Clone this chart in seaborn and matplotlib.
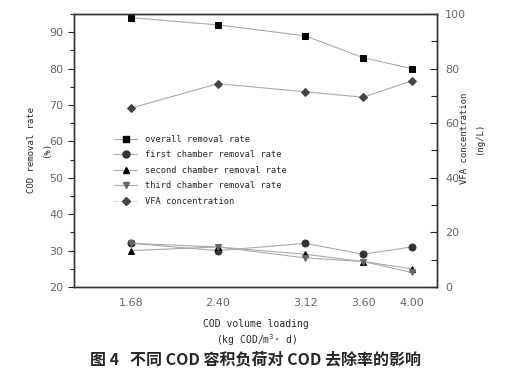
import matplotlib
matplotlib.use('Agg')
import matplotlib.pyplot as plt
import seaborn as sns
import pandas as pd
from matplotlib.ticker import MultipleLocator
from matplotlib.lines import Line2D

# COD volume loading (kg COD/m3·d)
loading = [1.68, 2.40, 3.12, 3.60, 4.00]
loading_labels = ['1.68', '2.40', '3.12', '3.60', '4.00']

# removal rates (%), left axis
overall = [94, 92, 89, 83, 80]
first_chamber = [32, 30, 32, 29, 31]
second_chamber = [30, 31, 29, 27, 25]
third_chamber = [32, 31, 28, 27, 24]

# VFA concentration (ng/L), right axis
vfa = [65.5, 74.5, 71.5, 69.5, 75.5]

sns.set_style('ticks')
plt.rcParams['font.family'] = ['DejaVu Sans', 'Noto Sans CJK SC']

fig = plt.figure(figsize=(5.12, 3.74), dpi=100)
ax = fig.add_axes([0.1445, 0.2326, 0.709, 0.73])
ax2 = ax.twinx()

series = [
    ('overall removal rate', overall, 's', 'black', 4.5),
    ('first chamber removal rate', first_chamber, 'o', '#333333', 5),
    ('second chamber removal rate', second_chamber, '^', 'black', 5),
    ('third chamber removal rate', third_chamber, 'v', '#666666', 5),
]
handles = []
for name, vals, mk, col, ms in series:
    df = pd.DataFrame({'x': loading, 'y': vals})
    sns.lineplot(data=df, x='x', y='y', ax=ax, color='#aaaaaa', lw=0.8,
                 marker=mk, markersize=ms, markerfacecolor=col,
                 markeredgecolor=col, legend=False)
    handles.append(Line2D([], [], color='#aaaaaa', lw=0.8, marker=mk, markersize=ms,
                          markerfacecolor=col, markeredgecolor=col, label=name))

df_vfa = pd.DataFrame({'x': loading, 'y': vfa})
sns.lineplot(data=df_vfa, x='x', y='y', ax=ax2, color='#aaaaaa', lw=0.8,
             marker='D', markersize=4.5, markerfacecolor='#444444',
             markeredgecolor='#444444', legend=False)
handles.append(Line2D([], [], color='#dddddd', lw=0.8, marker='D', markersize=4.5,
                      markerfacecolor='#444444', markeredgecolor='#444444',
                      label='VFA concentration'))

ax.set_xlim(1.21, 4.21)
ax.set_ylim(20, 95)
ax2.set_ylim(0, 100)
ax.set_xticks(loading)
ax.set_xticklabels(loading_labels)
ax.tick_params(axis='x', length=0, pad=8, labelsize=8, labelcolor='#666666')
ax.yaxis.set_major_locator(MultipleLocator(10))
ax.yaxis.set_minor_locator(MultipleLocator(5))
ax.tick_params(axis='y', which='major', direction='out', length=4, labelsize=8,
               labelcolor='#666666', width=0.8)
ax.tick_params(axis='y', which='minor', direction='out', length=3, width=0.8)
ax2.yaxis.set_major_locator(MultipleLocator(20))
ax2.yaxis.set_minor_locator(MultipleLocator(10))
ax2.tick_params(axis='y', which='major', direction='in', length=5, labelsize=8,
                labelcolor='#666666', width=0.8, pad=6)
ax2.tick_params(axis='y', which='minor', direction='in', length=4, width=0.8)
for a in (ax, ax2):
    for s in a.spines.values():
        s.set_visible(True)
        s.set_linewidth(1.0)
        s.set_color('#333333')

mono = 'DejaVu Sans Mono'
ax.set_xlabel('')
ax.set_ylabel('')
ax2.set_ylabel('')
fig.text(0.5, 0.135, 'COD volume loading', ha='center', va='center',
         family=mono, fontsize=7)
fig.text(0.5, 0.09, '(kg COD/m$^3$· d)', ha='center', va='center',
         family=mono, fontsize=7)
fig.text(0.062, 0.6, 'COD removal rate', rotation=90, ha='center', va='center',
         family=mono, fontsize=6.5)
fig.text(0.092, 0.6, '(%)', rotation=90, ha='center', va='center',
         family=mono, fontsize=6.5)
fig.text(0.908, 0.63, 'VFA concentration', rotation=90, ha='center', va='center',
         family=mono, fontsize=6.5)
fig.text(0.937, 0.63, '(ng/L)', rotation=90, ha='center', va='center',
         family=mono, fontsize=6.5)

ax.legend(handles=handles, loc='upper left', bbox_to_anchor=(0.09, 0.585),
          frameon=False, prop={'family': mono, 'size': 6.2}, handlelength=2.6,
          labelspacing=0.75, handletextpad=0.9)

fig.text(0.5, 0.04, '图 4   不同 COD 容积负荷对 COD 去除率的影响', ha='center',
         va='center', fontsize=11.5, fontweight='bold',
         family=['Noto Sans CJK SC', 'DejaVu Sans'])

fig.savefig('out.png', dpi=100)
